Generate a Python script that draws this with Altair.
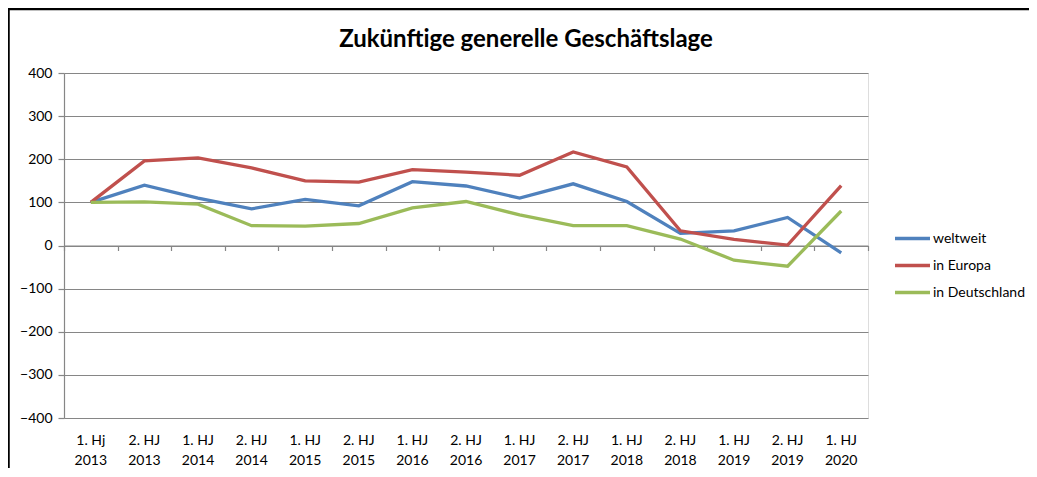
import altair as alt
import pandas as pd

periods = ["1. Hj|2013", "2. HJ|2013", "1. HJ|2014", "2. HJ|2014", "1. HJ|2015",
           "2. HJ|2015", "1. HJ|2016", "2. HJ|2016", "1. HJ|2017", "2. HJ|2017",
           "1. HJ|2018", "2. HJ|2018", "1. HJ|2019", "2. HJ|2019", "1. HJ|2020"]
weltweit = [100, 140, 110, 85, 107, 92, 148, 138, 110, 143, 102, 28, 34, 65, -17]
europa = [100, 196, 203, 180, 150, 147, 176, 170, 163, 217, 182, 34, 14, 1, 139]
deutschland = [100, 101, 96, 46, 45, 51, 87, 102, 71, 46, 46, 15, -34, -48, 80]
series = ["weltweit", "in Europa", "in Deutschland"]
colors = ["#4F81BD", "#C0504D", "#9BBB59"]
y_ticks = [-400, -300, -200, -100, 0, 100, 200, 300, 400]
title_text = "Zukünftige generelle Geschäftslage"

rows = []
for name, vals in zip(series, [weltweit, europa, deutschland]):
    for p, v in zip(periods, vals):
        rows.append({"period": p, "value": v, "series": name})
df = pd.DataFrame(rows)

W, H = 804, 345
GRID = "#868686"
FONT = "Lato"

xscale = alt.Scale(type="band", paddingInner=0, paddingOuter=0)

lines = alt.Chart(df).mark_line(strokeWidth=3.3).encode(
    x=alt.X("period:N", sort=periods, scale=xscale,
            axis=alt.Axis(title=None, orient="bottom", labelAngle=0,
                          labelExpr="split(datum.label, '|')",
                          ticks=False, domain=False, grid=False,
                          labelPadding=15, labelLineHeight=20,
                          labelFontSize=14, labelFont=FONT, labelColor="#000")),
    y=alt.Y("value:Q", scale=alt.Scale(domain=[-400, 400], nice=False, zero=False),
            axis=alt.Axis(title=None, values=y_ticks, grid=True, gridColor=GRID,
                          gridWidth=1.2, domainColor=GRID, domainWidth=1.2,
                          tickColor=GRID, tickSize=6, tickWidth=1.2,
                          labelPadding=6, labelFontSize=14, labelFont=FONT,
                          labelColor="#000")),
    color=alt.Color("series:N", sort=series,
                    scale=alt.Scale(domain=series, range=colors),
                    legend=alt.Legend(title=None, orient="none", legendX=829,
                                      legendY=146, symbolType="stroke",
                                      symbolSize=1225, symbolStrokeWidth=3.5,
                                      rowPadding=-2.5, labelOffset=1,
                                      labelFontSize=14, labelFont=FONT,
                                      labelColor="#000")),
)

zero_axis = alt.Chart(pd.DataFrame({"period": periods})).mark_rule(opacity=0).encode(
    x=alt.X("period:N", sort=periods, scale=xscale,
            axis=alt.Axis(title=None, orient="bottom", offset=-172.5, labels=False,
                          grid=False, domain=True, domainColor=GRID, domainWidth=1.2,
                          ticks=True, tickBand="extent", tickSize=5,
                          tickColor=GRID, tickWidth=1.2)),
)

title = alt.Chart(pd.DataFrame({"t": [title_text]})).mark_text(
    font=FONT, fontSize=24, fontWeight="bold", color="#000",
    align="center", baseline="alphabetic").encode(
    text="t:N", x=alt.value(462), y=alt.value(-26))

frame_left = alt.Chart(pd.DataFrame({"a": [0]})).mark_rule(color="#000", strokeWidth=2.5).encode(
    x=alt.value(-55.5), y=alt.value(-65), y2=alt.value(H + 70))
frame_top = alt.Chart(pd.DataFrame({"a": [0]})).mark_rule(color="#000", strokeWidth=2.5).encode(
    x=alt.value(-56), x2=alt.value(W + 220), y=alt.value(-64))

chart = alt.layer(lines, zero_axis, title, frame_left, frame_top).resolve_axis(
    x="independent"
).properties(
    width=W, height=H,
    autosize=alt.AutoSizeParams(type="none"),
    padding={"left": 56, "top": 65, "right": 161, "bottom": 50},
).configure_view(stroke=None).configure(background="white")

chart.save("out.html", embed_options={"renderer": "svg", "actions": False})
